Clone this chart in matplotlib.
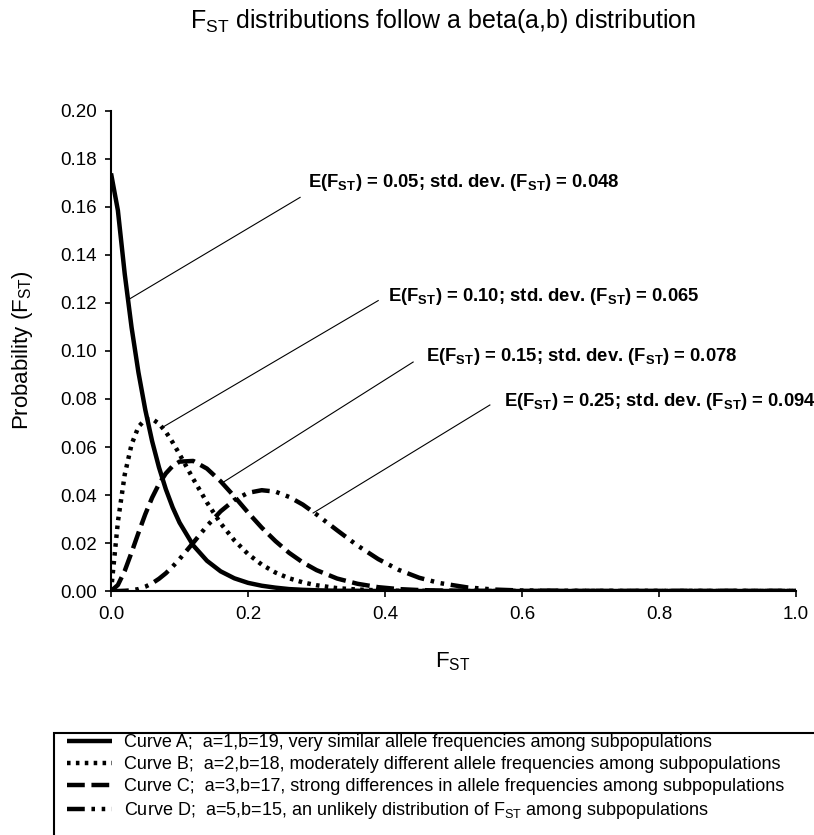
import matplotlib
matplotlib.use("Agg")
import matplotlib.pyplot as plt
from matplotlib.patches import Rectangle

plt.rcParams['font.family'] = ['Liberation Sans', 'DejaVu Sans']
plt.rcParams['mathtext.default'] = 'regular'

# values (probability per F_ST value)
fst = [0.00, 0.01, 0.02, 0.03, 0.04, 0.05, 0.06, 0.07, 0.08, 0.09, 0.10,
       0.12, 0.14, 0.16, 0.18, 0.20, 0.22, 0.24, 0.26, 0.28, 0.30,
       0.33, 0.36, 0.39, 0.42, 0.45, 0.48, 0.52, 0.56, 0.60, 0.70, 0.80, 0.90, 1.00]
curve_a = [0.1740, 0.1586, 0.1321, 0.1098, 0.0911, 0.0755, 0.0624, 0.0515, 0.0424, 0.0348, 0.0285,
           0.0190, 0.0126, 0.0082, 0.0053, 0.0034, 0.0022, 0.0014, 0.0008, 0.0005, 0.0003,
           0.0001, 0.0001, 0.0000, 0.0000, 0.0000, 0.0000, 0.0000, 0.0000, 0.0000, 0.0000, 0.0000, 0.0000, 0.0000]
curve_b = [0.0000, 0.0288, 0.0485, 0.0611, 0.0684, 0.0715, 0.0717, 0.0697, 0.0663, 0.0619, 0.0570,
           0.0467, 0.0369, 0.0282, 0.0211, 0.0154, 0.0110, 0.0077, 0.0053, 0.0036, 0.0024,
           0.0012, 0.0006, 0.0003, 0.0001, 0.0001, 0.0000, 0.0000, 0.0000, 0.0000, 0.0000, 0.0000, 0.0000, 0.0000]
curve_c = [0.0000, 0.0025, 0.0084, 0.0161, 0.0242, 0.0320, 0.0389, 0.0446, 0.0490, 0.0521, 0.0539,
           0.0542, 0.0510, 0.0457, 0.0394, 0.0327, 0.0264, 0.0208, 0.0159, 0.0119, 0.0087,
           0.0052, 0.0030, 0.0016, 0.0008, 0.0004, 0.0002, 0.0001, 0.0000, 0.0000, 0.0000, 0.0000, 0.0000, 0.0000]
curve_d = [0.0000, 0.0000, 0.0001, 0.0003, 0.0008, 0.0018, 0.0032, 0.0051, 0.0074, 0.0102, 0.0133,
           0.0201, 0.0271, 0.0332, 0.0379, 0.0409, 0.0420, 0.0414, 0.0392, 0.0360, 0.0319,
           0.0253, 0.0189, 0.0133, 0.0088, 0.0055, 0.0033, 0.0015, 0.0006, 0.0002, 0.0000, 0.0000, 0.0000, 0.0000]

labels = [
    'Curve A;  a=1,b=19, very similar allele frequencies among subpopulations',
    'Curve B;  a=2,b=18, moderately different allele frequencies among subpopulations',
    'Curve C;  a=3,b=17, strong differences in allele frequencies among subpopulations',
    r'Curve D;  a=5,b=15, an unlikely distribution of F$_{ST}$ among subpopulations',
]

# annotation text, line start (on curve) and line end (near text)
notes = [
    r'E(F$_{ST}$) = 0.05; std. dev. (F$_{ST}$) = 0.048',
    r'E(F$_{ST}$) = 0.10; std. dev. (F$_{ST}$) = 0.065',
    r'E(F$_{ST}$) = 0.15; std. dev. (F$_{ST}$) = 0.078',
    r'E(F$_{ST}$) = 0.25; std. dev. (F$_{ST}$) = 0.094',
]
note_start = [(0.023, 0.121), (0.074, 0.068), (0.162, 0.045), (0.295, 0.0325)]
note_end = [(0.276, 0.164), (0.390, 0.121), (0.441, 0.0954), (0.553, 0.0775)]
note_text = [(0.288, 0.170), (0.404, 0.1225), (0.460, 0.0975), (0.573, 0.0790)]

fig = plt.figure(figsize=(8.14, 8.35), dpi=100)
ax = fig.add_axes([0.1364, 0.2922, 0.8416, 0.5749])

ax.plot(fst, curve_a, color='black', lw=3.2, solid_capstyle='butt', label=labels[0])
ax.plot(fst, curve_b, color='black', lw=3.2, linestyle=(0, (0.8, 1.2)), label=labels[1])
ax.plot(fst, curve_c, color='black', lw=3.2, linestyle=(0, (4, 1.5)), label=labels[2])
ax.plot(fst, curve_d, color='black', lw=3.2, linestyle=(0, (4, 1.5, 0.8, 1.5, 0.8, 1.5)), label=labels[3])

for txt, p0, p1, pt in zip(notes, note_start, note_end, note_text):
    ax.plot([p0[0], p1[0]], [p0[1], p1[1]], color='black', lw=0.8)
    ax.text(pt[0], pt[1], txt, fontsize=13.3, fontweight='bold', ha='left', va='center')

ax.set_xlim(0, 1.0)
ax.set_ylim(0, 0.20)
ax.set_xticks([0.0, 0.2, 0.4, 0.6, 0.8, 1.0])
ax.set_xticklabels(['0.0', '0.2', '0.4', '0.6', '0.8', '1.0'])
ax.set_yticks([0.00, 0.02, 0.04, 0.06, 0.08, 0.10, 0.12, 0.14, 0.16, 0.18, 0.20])
ax.set_yticklabels(['%.2f' % v for v in ax.get_yticks()])
ax.tick_params(direction='out', length=4, width=1.2, labelsize=13.5)
ax.tick_params(axis='x', pad=7)
ax.tick_params(axis='y', pad=6)
for side in ['top', 'right']:
    ax.spines[side].set_visible(False)
for side in ['left', 'bottom']:
    ax.spines[side].set_linewidth(1.5)

fig.text(0.556, 1 - 662 / 835, r'F$_{ST}$', fontsize=16, ha='center', va='center')
fig.text(23 / 814, 1 - 350 / 835, r'Probability (F$_{ST}$)', fontsize=16,
         rotation=90, ha='center', va='center')

fig.text(190 / 814, 1 - 28 / 835, r'F$_{ST}$ distributions follow a beta(a,b) distribution',
         fontsize=18, ha='left', va='baseline')

# legend box, cut off at the right and bottom like the original
fig.add_artist(Rectangle((54 / 814, -0.1), 1.0, 0.1 + (835 - 733) / 835, transform=fig.transFigure,
                         fill=False, edgecolor='black', lw=1.5, clip_on=False))
handles, labs = ax.get_legend_handles_labels()
fig.legend(handles, labs, loc='upper left', bbox_to_anchor=(67 / 814, 1 - 734 / 835),
           frameon=False, fontsize=13, handlelength=2.5, handletextpad=0.65,
           labelspacing=0.28, borderpad=0, borderaxespad=0)

fig.savefig('out.png', dpi=100)
